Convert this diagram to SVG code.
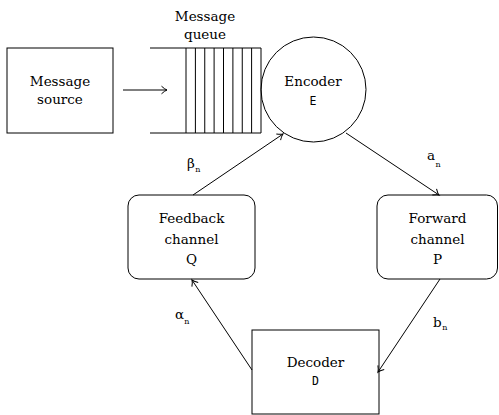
<svg xmlns="http://www.w3.org/2000/svg" width="499" height="415" viewBox="0 0 499 415">
<defs>
<style>
.s{fill:none;stroke:#000;stroke-width:1}
.c{fill:none;stroke:#000;stroke-width:1}
</style>
<marker id="ah" markerUnits="userSpaceOnUse" markerWidth="12" markerHeight="12" viewBox="-7 -6 9 12" refX="0" refY="0" orient="auto">
<path d="M-5.5,-3.8 Q-2,-0.6 0,0 Q-2,0.6 -5.5,3.8" fill="none" stroke="#000" stroke-width="1"/>
</marker>
</defs>
<rect width="499" height="415" fill="#fff"/>
<g font-family="DejaVu Serif, serif" font-size="13.5" text-anchor="middle" fill="#000">
<g id="source">
<rect class="s" x="7" y="48" width="106" height="85"/>
<text x="60" y="86">Message</text>
<text x="60" y="104">source</text>
</g>
<g id="queue">
<path class="s" d="M150,48H261M150,133H261M186,48V133M195.4,48V133M204.75,48V133M214.1,48V133M223.5,48V133M232.9,48V133M242.25,48V133M251.6,48V133M261,48V133"/>
<text x="205" y="21">Message</text>
<text x="205" y="39">queue</text>
</g>
<g id="encoder">
<circle class="s" cx="313.5" cy="89.5" r="52.5"/>
<text x="313" y="86">Encoder</text>
<text x="313" y="105" font-family="DejaVu Sans Mono, monospace" font-size="11.5">E</text>
</g>
<g id="feedback">
<rect class="s" x="128" y="195" width="127" height="84" rx="11"/>
<text x="191.5" y="223">Feedback</text>
<text x="191.5" y="244">channel</text>
<text x="191.5" y="264">Q</text>
</g>
<g id="forward">
<rect class="s" x="377" y="195" width="120.5" height="84" rx="11"/>
<text x="437.5" y="223">Forward</text>
<text x="437.5" y="244">channel</text>
<text x="437.5" y="264">P</text>
</g>
<g id="decoder">
<rect class="s" x="252" y="330" width="127" height="84"/>
<text x="315.5" y="367">Decoder</text>
<text x="315.5" y="385" font-family="DejaVu Sans Mono, monospace" font-size="11.5">D</text>
</g>
<g id="connectors" text-anchor="start">
<line class="c" x1="123" y1="90" x2="167" y2="90" marker-end="url(#ah)"/>
<line class="c" x1="193" y1="195" x2="283" y2="134" marker-end="url(#ah)"/>
<line class="c" x1="346" y1="133" x2="439" y2="195" marker-end="url(#ah)"/>
<line class="c" x1="440" y1="279" x2="378" y2="372" marker-end="url(#ah)"/>
<line class="c" x1="252" y1="370" x2="192" y2="280" marker-end="url(#ah)"/>
<text x="187" y="168">β<tspan font-size="8" dx="0.5" dy="4">n</tspan></text>
<text x="427" y="160">a<tspan font-size="8" dx="0.5" dy="6.5">n</tspan></text>
<text x="175" y="319">α<tspan font-size="8" dx="0" dy="5">n</tspan></text>
<text x="433" y="327">b<tspan font-size="8" dx="0.5" dy="3">n</tspan></text>
</g>
</g>
</svg>
